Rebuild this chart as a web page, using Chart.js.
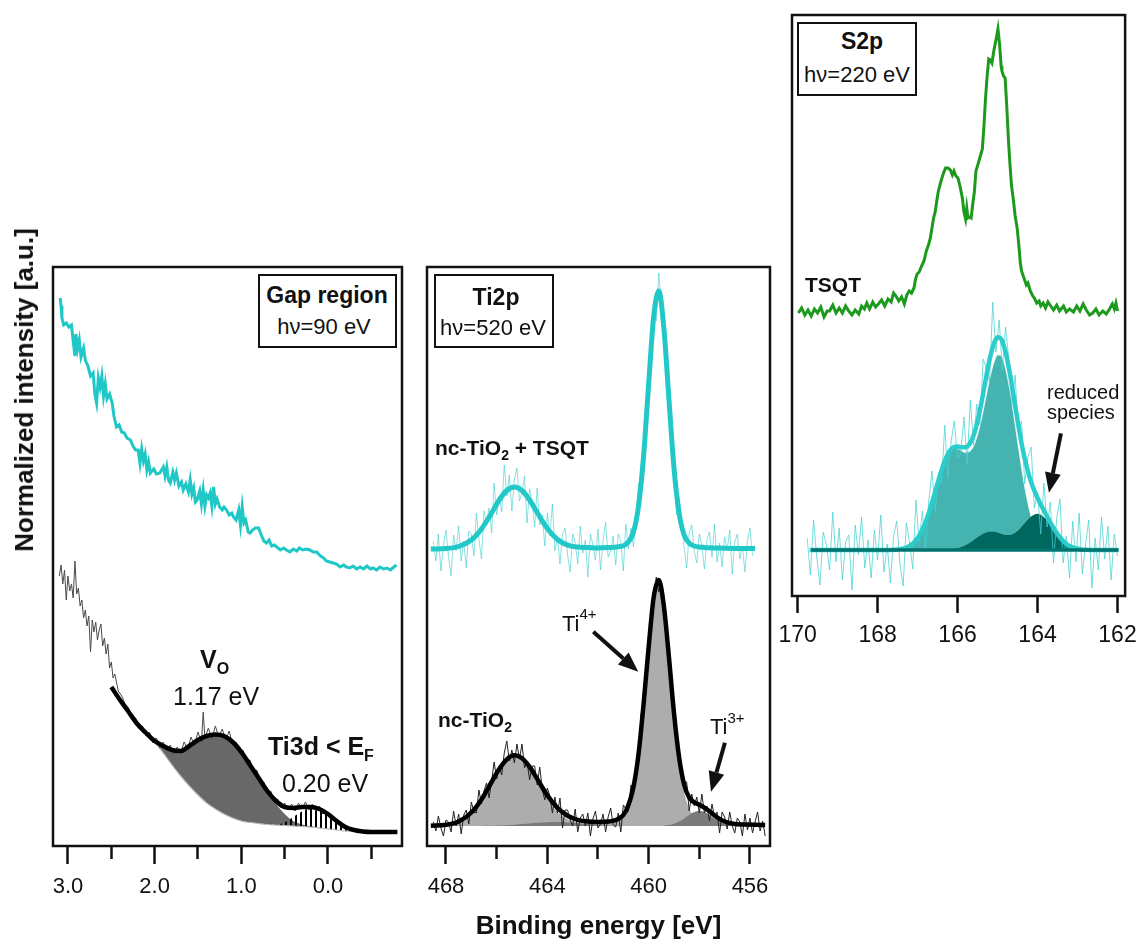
<!DOCTYPE html>
<html>
<head>
<meta charset="utf-8">
<title>Gap region, Ti2p and S2p spectra</title>
<script src="https://cdn.jsdelivr.net/npm/chart.js@4.4.1/dist/chart.umd.min.js"></script>
<style>
html,body{margin:0;padding:0;background:#fff;}
#wrap{position:relative;width:1146px;height:942px;overflow:hidden;font-family:"Liberation Sans",Arial,Helvetica,sans-serif;color:#111;}
#wrap canvas{position:absolute;left:0;top:0;}
.t{position:absolute;white-space:nowrap;line-height:1;}
.b{font-weight:bold;}
.box{position:absolute;border:2px solid #111;box-sizing:border-box;background:#fff;}
.s{position:relative;}
</style>
</head>
<body>
<div id="wrap">
<canvas id="gap" width="1146" height="942"></canvas>
<canvas id="ti" width="1146" height="942"></canvas>
<canvas id="sp" width="1146" height="942"></canvas>

<div class="box" style="left:258px;top:274px;width:139px;height:74px"></div>
<div class="t b" style="left:327px;top:284px;font-size:23px;transform:translateX(-50%)">Gap region</div>
<div class="t" style="left:324px;top:315.5px;font-size:22px;transform:translateX(-50%)">hν=90 eV</div>

<div class="box" style="left:434px;top:274px;width:120px;height:74px"></div>
<div class="t b" style="left:496px;top:285.5px;font-size:23px;transform:translateX(-50%)">Ti2p</div>
<div class="t" style="left:493px;top:316.5px;font-size:22px;transform:translateX(-50%)">hν=520 eV</div>

<div class="box" style="left:797px;top:22px;width:120px;height:74px"></div>
<div class="t b" style="left:862px;top:30px;font-size:23px;transform:translateX(-50%)">S2p</div>
<div class="t" style="left:857px;top:64px;font-size:22px;transform:translateX(-50%)">hν=220 eV</div>

<div class="t b" style="left:805px;top:274px;font-size:21px">TSQT</div>
<div class="t" style="left:1047px;top:381.5px;font-size:20px">reduced</div>
<div class="t" style="left:1047px;top:402px;font-size:20px">species</div>

<div class="t b" style="left:435px;top:437px;font-size:21px">nc-TiO<span class="s" style="font-size:14px;top:5px">2</span> + TSQT</div>
<div class="t b" style="left:438px;top:709px;font-size:21px">nc-TiO<span class="s" style="font-size:14px;top:5px">2</span></div>
<div class="t" style="left:562px;top:613px;font-size:22px">Ti<span class="s" style="font-size:15px;top:-12px">4+</span></div>
<div class="t" style="left:710px;top:715.5px;font-size:22px">Ti<span class="s" style="font-size:15px;top:-11px">3+</span></div>

<div class="t b" style="left:200px;top:647px;font-size:25px">V<span class="s" style="font-size:16px;top:6px">O</span></div>
<div class="t" style="left:173px;top:684px;font-size:25px">1.17 eV</div>
<div class="t b" style="left:268px;top:734px;font-size:25px">Ti3d &lt; E<span class="s" style="font-size:16px;top:6px">F</span></div>
<div class="t" style="left:282px;top:770.5px;font-size:25px">0.20 eV</div>

<div class="t b" style="left:24px;top:390px;font-size:26px;transform:translate(-50%,-50%) rotate(-90deg)">Normalized intensity [a.u.]</div>
</div>

<script>
// ===================== DATA =====================
// ---- Gap region (hν = 90 eV) ----
const gapTicks = [3.0, 2.0, 1.0, 0.0];
const gapMinorTicks = [2.5, 1.5, 0.5, -0.5];
const gapCyanX = [3.09,3.08,3.07,3.05,3.02,2.99,2.96,2.94,2.92,2.91,2.89,2.87,2.85,2.82,2.80,2.77,2.74,2.71,2.69,2.67,2.65,2.63,2.61,2.59,2.57,2.55,2.52,2.49,2.47,2.44,2.41,2.38,2.35,2.32,2.28,2.25,2.22,2.19,2.17,2.15,2.13,2.11,2.09,2.07,2.05,2.01,1.98,1.94,1.90,1.88,1.86,1.84,1.82,1.79,1.77,1.75,1.72,1.69,1.67,1.64,1.61,1.59,1.57,1.55,1.53,1.51,1.48,1.46,1.44,1.42,1.40,1.38,1.36,1.34,1.32,1.30,1.28,1.25,1.22,1.20,1.17,1.14,1.11,1.09,1.06,1.03,1.01,0.99,0.97,0.95,0.92,0.90,0.87,0.84,0.80,0.77,0.74,0.71,0.68,0.65,0.62,0.59,0.55,0.51,0.48,0.44,0.40,0.36,0.33,0.29,0.25,0.21,0.17,0.13,0.10,0.07,0.05,0.02,-0.02,-0.06,-0.10,-0.14,-0.18,-0.21,-0.25,-0.29,-0.33,-0.37,-0.41,-0.45,-0.49,-0.52,-0.56,-0.60,-0.64,-0.68,-0.72,-0.76,-0.79];
const gapCyanY = [548,540,528,521,523,519,521,505,490,512,497,506,489,498,486,480,470,473,452,443,468,459,470,450,462,447,452,443,430,419,421,414,413,408,406,400,396,396,383,397,385,392,376,384,373,377,372,373,379,370,379,366,363,374,366,373,360,364,356,362,354,366,352,358,344,346,355,342,356,340,351,348,353,340,359,342,347,339,336,339,336,331,333,329,326,336,321,339,323,326,314,313,316,318,318,311,305,303,306,300,301,299,296,298,296,294,297,295,298,296,297,296,294,294,291,289,288,285,284,283,282,279,281,279,278,280,277,279,277,280,277,278,276,279,277,278,276,279,281];
const gapRawX = [3.10,3.08,3.06,3.04,3.02,3.00,2.98,2.96,2.94,2.92,2.90,2.88,2.86,2.84,2.82,2.80,2.78,2.76,2.74,2.72,2.70,2.68,2.66,2.64,2.62,2.60,2.58,2.56,2.54,2.52,2.50,2.48,2.46,2.42,2.38,2.34,2.30,2.26,2.22,2.18,2.14,2.10,2.06,2.02,1.98,1.94,1.90,1.86,1.82,1.78,1.74,1.70,1.66,1.62,1.58,1.54,1.50,1.46,1.44,1.42,1.38,1.34,1.30,1.26,1.22,1.18,1.14,1.10,1.06,1.02,0.98,0.94,0.90,0.86,0.82,0.78,0.74,0.70,0.66,0.62,0.58,0.54,0.50,0.46,0.42,0.38,0.34,0.30,0.26,0.22,0.18,0.14,0.10,0.06,0.02,-0.02,-0.06,-0.10,-0.14,-0.18,-0.22,-0.26,-0.30,-0.34,-0.40,-0.46,-0.52,-0.58,-0.64,-0.70,-0.76,-0.80];
const gapRawY = [270,281,262,276,246,270,255,262,248,285,252,258,240,246,228,236,220,230,194,226,214,224,206,216,222,200,208,192,202,178,184,168,172,155,150,142,138,126,128,118,120,110,114,103,108,98,104,95,101,92,99,93,104,97,109,100,114,104,134,108,118,107,120,109,117,106,115,101,104,92,96,84,86,74,76,62,64,52,55,44,47,38,43,36,42,35,43,37,44,36,42,35,40,32,34,28,30,23,24,18,20,15,17,13,15,13,15,13,14,13,15,14];
const gapFitX = [2.5,2.4,2.3,2.2,2.1,2.0,1.9,1.8,1.7,1.6,1.5,1.4,1.3,1.2,1.1,1.0,0.9,0.8,0.7,0.6,0.5,0.4,0.3,0.2,0.1,0.0,-0.1,-0.2,-0.3,-0.4,-0.5,-0.6,-0.7,-0.8];
const gapFitY  = [159,146,134,122,113,105,100,96,95,100,106,110,111.5,110,104,94,81,68,55,45,39,38,39,39,37,32,25,19,16,14.5,14,14,14,14];
const gapBgY   = [159,146,134,122,113,104,93,81,70,60,51,43,37,32,28,25,23.5,22.5,21.5,21,20.5,20,19.5,19,18,17,16,15,14.5,14,14,14,14,14];
const gapVoY   = [159,146,134,122,113,104.5,100,96,95,100,106,110,111.5,110,104,94,81,68,55,42,32,25,21.5,19.8,18.3,17.2,16,15,14.5,14,14,14,14,14];
const gapTi3dY = [159,146,134,122,113,104,93,81,70,60,51,43,37,32,28,25,23.5,22.5,22,21.5,23.5,29,34.5,38,37,32,25,19,15.5,14.2,14,14,14,14];

// ---- Ti2p (hν = 520 eV) ----
const tiTicks = [468, 464, 460, 456];
const tiMinorTicks = [466, 462, 458];
const tiFitX = [468.6,468.0,467.5,467.0,466.6,466.2,465.9,465.6,465.3,465.0,464.7,464.4,464.0,463.6,463.2,462.8,462.4,462.0,461.6,461.2,460.9,460.6,460.4,460.2,460.0,459.8,459.6,459.4,459.2,459.0,458.8,458.6,458.4,458.2,458.0,457.8,457.6,457.3,457.0,456.6,456.2,455.8,455.4];
const tiCyanFitY  = [297,297.5,299.5,306,317,333,346,355.5,359,355.5,346,333.5,317.5,306.5,300.8,298.9,298.5,298,298.4,299.3,301.7,314,340,390,462,530,555,518,447,378,333,311,303,300,299,298.6,298.3,298,297.8,297.6,297.5,297.4,297.3];
const tiBlackFitY = [20.3,21.2,24.6,33.5,46.6,64.0,77.0,86.7,90.7,87.8,79.2,67.1,50.6,38.2,30.3,26.2,24.4,23.9,24.4,27.1,34.9,59,92,142,199,249,266,240,189,133,89,61.5,48.4,43.6,41.3,38.4,34.7,28.7,24.5,22,21.5,21.2,21];
const ti4Y = [20.3,21.2,24.6,33.5,46.5,63.7,76.5,85.9,89.4,85.9,76.6,63.9,46.8,34.2,26.7,23.4,22.5,22.8,23.8,26.8,34.8,59,92,142,199,249,266,240,188,131,85,54,37.4,29.7,26.3,24.5,23.7,22.9,22.3,21.7,21.5,21.2,21];
const ti3Y = [20,20,20,20,20.1,20.25,20.5,20.8,21.3,21.9,22.6,23.2,23.8,24,23.6,22.8,21.9,21.1,20.6,20.25,20.1,20,20,20,20,20,20.1,20.3,20.9,22.2,24.4,27.5,31,33.9,35,33.9,31,25.8,22.2,20.3,20,20,20];
const tiCyanRawX = [468.5,468.4,468.3,468.2,468.1,468.0,467.9,467.8,467.7,467.6,467.5,467.4,467.3,467.2,467.1,467.0,466.9,466.8,466.7,466.6,466.5,466.4,466.3,466.2,466.1,466.0,465.9,465.8,465.7,465.6,465.5,465.4,465.3,465.2,465.1,465.0,464.9,464.8,464.7,464.6,464.5,464.4,464.3,464.2,464.1,464.0,463.9,463.8,463.7,463.6,463.5,463.4,463.3,463.2,463.1,463.0,462.9,462.8,462.7,462.6,462.5,462.4,462.3,462.2,462.1,462.0,461.9,461.8,461.7,461.6,461.5,461.4,461.3,461.2,461.1,461.0,460.9,460.8,460.7,460.6,460.5,460.4,460.3,460.2,460.1,460.0,459.9,459.8,459.7,459.6,459.5,459.4,459.3,459.2,459.1,459.0,458.9,458.8,458.7,458.6,458.5,458.4,458.3,458.2,458.1,458.0,457.9,457.8,457.7,457.6,457.5,457.4,457.3,457.2,457.1,457.0,456.9,456.8,456.7,456.6,456.5,456.4,456.3,456.2,456.1,456.0,455.9];
const tiCyanRawY = [305,285,312,275,302,316,289,270,311,295,320,285,305,278,315,312,290,333,307,287,335,323,338,313,363,331,350,334,381,350,371,335,366,378,345,353,370,323,357,344,319,358,321,331,300,333,310,342,295,308,282,312,318,291,274,312,303,282,320,293,306,269,312,301,286,317,276,305,324,289,295,310,281,312,305,275,322,297,318,299,327,363,351,370,441,468,487,539,525,573,540,530,468,474,403,382,331,348,327,299,278,313,321,295,283,312,301,277,306,314,289,322,284,303,279,309,296,316,272,304,312,287,300,274,306,318,290];
const tiBlackRawX = [468.5,468.4,468.3,468.2,468.1,468.0,467.9,467.8,467.7,467.6,467.5,467.4,467.3,467.2,467.1,467.0,466.9,466.8,466.7,466.6,466.5,466.4,466.3,466.2,466.1,466.0,465.9,465.8,465.7,465.6,465.5,465.4,465.3,465.2,465.1,465.0,464.9,464.8,464.7,464.6,464.5,464.4,464.3,464.2,464.1,464.0,463.9,463.8,463.7,463.6,463.5,463.4,463.3,463.2,463.1,463.0,462.9,462.8,462.7,462.6,462.5,462.4,462.3,462.2,462.1,462.0,461.9,461.8,461.7,461.6,461.5,461.4,461.3,461.2,461.1,461.0,460.9,460.8,460.7,460.6,460.5,460.4,460.3,460.2,460.1,460.0,459.9,459.8,459.7,459.6,459.5,459.4,459.3,459.2,459.1,459.0,458.9,458.8,458.7,458.6,458.5,458.4,458.3,458.2,458.1,458.0,457.9,457.8,457.7,457.6,457.5,457.4,457.3,457.2,457.1,457.0,456.9,456.8,456.7,456.6,456.5,456.4,456.3,456.2,456.1,456.0,455.9,455.8,455.7,455.6,455.5,455.4];
const tiBlackRawY = [24,15,30,18,10,26,24,14,35,20,32,12,31,36,22,44,34,33,56,42,55,63,48,65,84,67,80,71,93,105,85,96,83,102,87,102,78,84,66,80,80,61,79,57,46,58,50,33,49,33,48,18,36,36,26,20,37,14,28,32,20,33,10,27,35,18,22,32,14,29,38,21,19,33,14,41,37,35,61,56,82,82,132,137,175,191,237,247,269,254,262,249,212,178,174,127,112,97,65,64,64,35,52,40,49,33,52,33,40,25,42,29,34,13,34,29,17,34,20,13,28,24,10,32,16,28,13,24,34,15,25,10];

// ---- S2p (hν = 220 eV) ----
const sTicks = [170, 168, 166, 164, 162];
const sMinorTicks = [];
const sGreenX = [169.98,169.90,169.82,169.74,169.66,169.58,169.50,169.42,169.34,169.26,169.20,169.12,169.04,168.96,168.88,168.80,168.72,168.64,168.56,168.47,168.40,168.33,168.27,168.20,168.12,168.05,167.98,167.90,167.82,167.74,167.66,167.60,167.54,167.47,167.40,167.33,167.27,167.21,167.15,167.09,167.05,167.01,166.96,166.90,166.84,166.78,166.72,166.68,166.64,166.60,166.56,166.52,166.48,166.42,166.36,166.30,166.24,166.18,166.13,166.09,166.04,165.99,165.94,165.88,165.84,165.80,165.77,165.74,165.70,165.66,165.62,165.58,165.54,165.48,165.43,165.38,165.34,165.30,165.26,165.22,165.18,165.14,165.09,165.04,164.99,164.95,164.91,164.89,164.85,164.81,164.77,164.73,164.69,164.65,164.61,164.56,164.51,164.47,164.43,164.40,164.34,164.28,164.24,164.18,164.12,164.08,164.02,163.96,163.92,163.86,163.80,163.74,163.67,163.60,163.52,163.45,163.35,163.28,163.20,163.10,163.02,162.94,162.86,162.78,162.70,162.62,162.54,162.46,162.37,162.28,162.20,162.13,162.08,162.04,162.00];
const sGreenY = [283,288,281,286,280,287,283,289,279,285,285,291,283,288,283,290,285,281,286,282,290,287,293,287,294,289,292,296,290,297,294,303,300,295,299,292,301,305,303,308,317,322,324,330,335,345,352,358,368,378,384,395,405,414,422,428,428,426,421,425,420,418,410,398,384,377,388,378,379,378,392,404,425,433,440,447,470,498,520,537,536,533,546,556,567,552,530,525,520,518,490,458,432,410,398,380,368,352,333,325,318,311,313,305,300,298,293,295,290,293,288,294,290,286,291,285,290,284,287,284,290,285,292,286,281,283,287,281,285,282,287,292,287,293,285];
const sRawX = [169.76,169.68,169.60,169.52,169.44,169.36,169.28,169.20,169.12,169.04,168.96,168.88,168.80,168.72,168.64,168.56,168.48,168.40,168.32,168.24,168.16,168.08,168.00,167.92,167.84,167.76,167.68,167.60,167.52,167.44,167.36,167.28,167.20,167.12,167.04,166.96,166.88,166.80,166.72,166.64,166.56,166.48,166.40,166.32,166.24,166.16,166.08,166.00,165.92,165.84,165.76,165.68,165.60,165.52,165.44,165.36,165.28,165.20,165.12,165.04,164.96,164.88,164.80,164.72,164.64,164.56,164.48,164.40,164.32,164.24,164.16,164.08,164.00,163.92,163.84,163.76,163.68,163.60,163.52,163.44,163.36,163.28,163.20,163.12,163.04,162.96,162.88,162.80,162.72,162.64,162.56,162.48,162.40,162.32,162.24,162.16,162.08,162.00];
const sRawY = [58,21,76,38,11,64,51,26,84,34,68,16,54,61,6,71,41,79,28,56,18,66,36,81,24,52,13,60,75,32,10,73,53,27,96,54,85,44,95,125,84,120,112,171,118,155,175,138,143,179,132,196,151,192,171,237,228,214,294,244,276,226,269,238,190,221,163,175,112,139,149,88,104,62,113,69,94,33,78,97,33,60,18,75,34,83,22,51,76,8,58,26,79,37,70,16,62,40];
const sFitX = [169.7,169.0,168.5,168.0,167.7,167.5,167.4,167.3,167.2,167.1,167.0,166.9,166.8,166.7,166.6,166.5,166.4,166.3,166.2,166.1,166.0,165.9,165.8,165.7,165.6,165.5,165.4,165.3,165.2,165.1,165.0,164.9,164.8,164.7,164.6,164.5,164.4,164.3,164.2,164.1,164.0,163.9,163.8,163.7,163.6,163.5,163.4,163.3,163.2,163.1,163.0,162.9,162.8,162.5,162.0];
const sFitY  = [46,46,46,46,46.1,46.5,47.1,48.2,50.1,53.1,57.9,64.7,73.9,85.4,98.7,112.7,125.9,137,144.7,148.8,149.5,148.8,148.7,152,160.4,174.8,194,215.7,236.2,251.6,258.8,256.3,244,224.3,200.4,175.6,152.9,133.9,118.9,107.3,98.1,89.9,82.4,75,68,61.9,56.75,52.8,50,48.3,47.2,46.6,46.3,46,46];
const sMainY = [46,46,46,46,46.1,46.5,47.1,48.2,50.1,53.1,57.9,64.7,73.9,85.4,98.7,112.6,125.8,136.7,144.2,147.8,147.7,145.7,143.9,144.9,150.6,162.1,178.7,198.5,217.9,233.4,241.5,240.2,229,209.4,184.2,156.6,129.8,106.1,86.8,72.2,61.9,55.1,51,48.5,47.2,46.6,46.25,46.1,46,46,46,46,46,46,46];
const sRedY  = [46,46,46,46,46,46,46,46,46,46,46,46,46,46,46,46.05,46.1,46.25,46.5,47,47.8,49.1,50.8,53.1,55.8,58.7,61.3,63.2,64.3,64.2,63.3,62.1,61,60.9,62.2,65,69.1,73.8,78.1,81.1,82.2,80.8,77.4,72.5,66.8,61.3,56.5,52.7,50,48.3,47.2,46.6,46.26,46,46];
const sBaseX = [169.66, 161.97];
const sBaseY = [46, 46];

// ===================== RENDERING =====================
const FONT = '"Liberation Sans", Arial, Helvetica, sans-serif';
const W = 1146, H = 942;
const pts = (xs, ys) => xs.map((x, i) => ({x: x, y: ys[i]}));

function makeHatch() {
  const c = document.createElement('canvas');
  c.width = 5; c.height = 5;
  const g = c.getContext('2d');
  g.fillStyle = '#000';
  g.fillRect(0, 0, 2, 5);
  return g.createPattern(c, 'repeat');
}

function framePlugin() {
  return {
    id: 'frame',
    afterDraw(chart) {
      const a = chart.chartArea, ctx = chart.ctx;
      ctx.save();
      ctx.lineWidth = 2.5;
      ctx.strokeStyle = '#111';
      ctx.strokeRect(a.left, a.top, a.right - a.left, a.bottom - a.top);
      ctx.restore();
    }
  };
}

function arrowPlugin(list) {
  return {
    id: 'arrows',
    afterDraw(chart) {
      const ctx = chart.ctx, xs = chart.scales.x, ys = chart.scales.y;
      list.forEach(a => {
        const x1 = xs.getPixelForValue(a.from[0]), y1 = ys.getPixelForValue(a.from[1]);
        const x2 = xs.getPixelForValue(a.to[0]), y2 = ys.getPixelForValue(a.to[1]);
        const ang = Math.atan2(y2 - y1, x2 - x1), L = 20, HW = 8;
        const bx = x2 - L * Math.cos(ang), by = y2 - L * Math.sin(ang);
        ctx.save();
        ctx.strokeStyle = '#111'; ctx.fillStyle = '#111'; ctx.lineWidth = 4;
        ctx.beginPath(); ctx.moveTo(x1, y1); ctx.lineTo(bx, by); ctx.stroke();
        ctx.beginPath();
        ctx.moveTo(x2, y2);
        ctx.lineTo(bx - HW * Math.sin(ang), by + HW * Math.cos(ang));
        ctx.lineTo(bx + HW * Math.sin(ang), by - HW * Math.cos(ang));
        ctx.closePath(); ctx.fill();
        ctx.restore();
      });
    }
  };
}

function makeChart(id, p) {
  const scales = {
    x: {
      type: 'linear', axis: 'x', position: 'bottom', weight: 1,
      min: p.min, max: p.max, reverse: true, bounds: 'data',
      afterBuildTicks: s => { s.ticks = p.major.map(v => ({value: v})); },
      afterFit: s => { s.height = H - p.box.b; },
      grid: {display: true, drawOnChartArea: false, drawTicks: true, tickLength: p.majorLen, tickWidth: 2.5, tickColor: '#111'},
      border: {display: false},
      ticks: {autoSkip: false, maxRotation: 0, minRotation: 0, padding: p.pad, color: '#111',
              font: {family: FONT, size: p.tickSize}, callback: v => p.fmt(v)},
      title: p.title ? {display: true, text: p.title, color: '#111',
              font: {family: FONT, size: 26, weight: 'bold'}, padding: {top: 0, bottom: 0}} : {display: false}
    },
    y: {type: 'linear', display: false, min: 0, max: p.box.b - p.box.t}
  };
  if (p.minor.length) {
    scales.xm = {
      type: 'linear', axis: 'x', position: 'bottom', weight: 0,
      min: p.min, max: p.max, reverse: true, bounds: 'data',
      afterBuildTicks: s => { s.ticks = p.minor.map(v => ({value: v})); },
      afterFit: s => { s.height = 0; },
      grid: {display: true, drawOnChartArea: false, drawTicks: true, tickLength: p.minorLen, tickWidth: 2.5, tickColor: '#111'},
      border: {display: false},
      ticks: {display: false}
    };
  }
  p.datasets.forEach(d => {
    d.xAxisID = 'x'; d.yAxisID = 'y';
    d.pointRadius = 0; d.pointHoverRadius = 0;
    if (d.fill === undefined) d.fill = false;
  });
  return new Chart(document.getElementById(id), {
    type: 'line',
    data: {datasets: p.datasets},
    options: {
      responsive: false, animation: false, devicePixelRatio: 1, events: [],
      layout: {padding: {left: p.box.l, right: W - p.box.r, top: p.box.t, bottom: 0}},
      plugins: {legend: {display: false}, tooltip: {enabled: false}},
      scales: scales
    },
    plugins: [framePlugin(), arrowPlugin(p.arrows || [])]
  });
}

const NONE = 'rgba(0,0,0,0)';

// Panel 1: Gap region
makeChart('gap', {
  box: {l: 53, r: 402, t: 267, b: 846},
  min: -0.854, max: 3.173,
  major: gapTicks, minor: gapMinorTicks, majorLen: 18, minorLen: 13, pad: 10, tickSize: 22,
  fmt: v => v.toFixed(1),
  datasets: [
    {data: pts(gapCyanX, gapCyanY), borderColor: '#1fc7c7', borderWidth: 3, order: 1},
    {data: pts(gapFitX, gapFitY), borderColor: '#000', borderWidth: 4.5, cubicInterpolationMode: 'monotone', order: 2},
    {data: pts(gapRawX, gapRawY), borderColor: '#4a4a4a', borderWidth: 1, order: 3},
    {data: pts(gapFitX, gapBgY), borderColor: '#b8b8b8', borderWidth: 1.2, cubicInterpolationMode: 'monotone', order: 4},
    {data: pts(gapFitX, gapTi3dY), borderColor: NONE, borderWidth: 0, backgroundColor: makeHatch(), fill: 3, cubicInterpolationMode: 'monotone', order: 5},
    {data: pts(gapFitX, gapVoY), borderColor: NONE, borderWidth: 0, backgroundColor: '#686868', fill: 3, cubicInterpolationMode: 'monotone', order: 6}
  ]
});

// Panel 2: Ti2p
makeChart('ti', {
  box: {l: 427, r: 770, t: 267, b: 846},
  min: 455.21, max: 468.75,
  major: tiTicks, minor: tiMinorTicks, majorLen: 18, minorLen: 13, pad: 10, tickSize: 22,
  fmt: v => String(v),
  title: 'Binding energy [eV]',
  arrows: [
    {from: [462.185, 214.3], to: [460.41, 174.3]},
    {from: [456.99, 103.3], to: [457.54, 54.3]}
  ],
  datasets: [
    {data: pts(tiFitX.slice(0, 42), tiCyanFitY.slice(0, 42)), borderColor: '#22c8c8', borderWidth: 5, cubicInterpolationMode: 'monotone', order: 1},
    {data: pts(tiCyanRawX, tiCyanRawY), borderColor: 'rgba(60,205,205,0.6)', borderWidth: 1, order: 2},
    {data: pts(tiFitX, tiBlackFitY), borderColor: '#000', borderWidth: 4.5, cubicInterpolationMode: 'monotone', order: 3},
    {data: pts(tiBlackRawX, tiBlackRawY), borderColor: '#222', borderWidth: 1, order: 4},
    {data: pts(tiFitX, ti3Y), borderColor: NONE, borderWidth: 0, backgroundColor: '#7b7b7b', fill: {value: 20}, cubicInterpolationMode: 'monotone', order: 5},
    {data: pts(tiFitX, ti4Y), borderColor: NONE, borderWidth: 0, backgroundColor: '#adadad', fill: {value: 20}, cubicInterpolationMode: 'monotone', order: 6}
  ]
});

// Panel 3: S2p
makeChart('sp', {
  box: {l: 792, r: 1133, t: 15, b: 596},
  min: 161.81, max: 170.14,
  major: sTicks, minor: sMinorTicks, majorLen: 17, minorLen: 12, pad: 9, tickSize: 23,
  fmt: v => String(v),
  arrows: [
    {from: [163.415, 162.7], to: [163.715, 103.3]}
  ],
  datasets: [
    {data: pts(sGreenX, sGreenY), borderColor: '#1d9a1d', borderWidth: 3, order: 1},
    {data: pts(sBaseX, sBaseY), borderColor: '#00736e', borderWidth: 3.5, order: 2},
    {data: pts(sFitX, sFitY), borderColor: '#2bcccc', borderWidth: 4.5, cubicInterpolationMode: 'monotone', order: 3},
    {data: pts(sRawX, sRawY), borderColor: 'rgba(70,210,210,0.75)', borderWidth: 1, order: 4},
    {data: pts(sFitX, sRedY), borderColor: NONE, borderWidth: 0, backgroundColor: '#00675f', fill: {value: 46}, cubicInterpolationMode: 'monotone', order: 5},
    {data: pts(sFitX, sMainY), borderColor: 'rgba(255,255,255,0.85)', borderWidth: 1.5, backgroundColor: '#45b3b0', fill: {value: 46}, cubicInterpolationMode: 'monotone', order: 6}
  ]
});
</script>
</body>
</html>
